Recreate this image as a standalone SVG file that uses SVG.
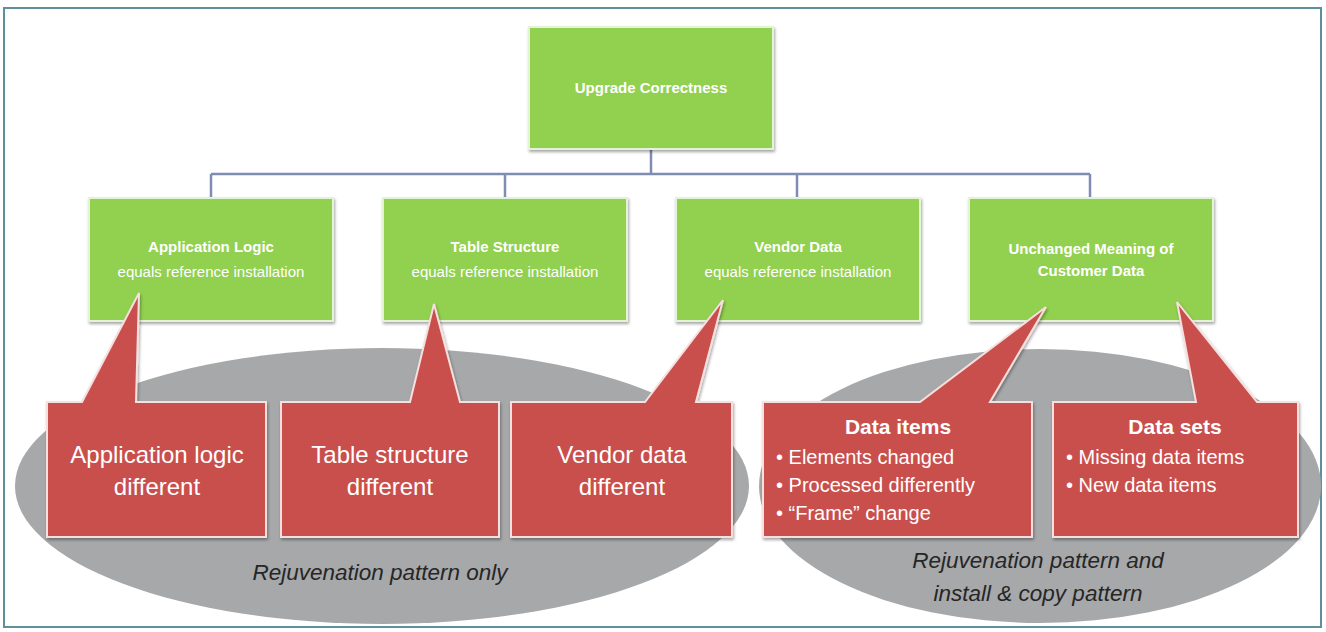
<svg xmlns="http://www.w3.org/2000/svg" width="1326" height="632" viewBox="0 0 1326 632">
<defs>
<filter id="sh" x="-10%" y="-10%" width="120%" height="130%">
<feDropShadow dx="1" dy="2" stdDeviation="1.5" flood-color="#000" flood-opacity="0.35"/>
</filter>
<style>
.frame{fill:#fff;stroke:#5e909c;stroke-width:2}
.green{fill:#92d050;stroke:#e4f3d6;stroke-width:2;filter:url(#sh)}
.red{fill:#c9504d;stroke:#f6e0df;stroke-width:2;stroke-linejoin:miter;filter:url(#sh)}
.oval{fill:#a6a8aa}
.conn{fill:none;stroke:#7f8db3;stroke-width:2.5}
.gt{font-family:"Liberation Sans",Arial,sans-serif;fill:#fff;text-anchor:middle;font-size:15px}
.gb{font-weight:bold}
.rt{font-family:"Liberation Sans",Arial,sans-serif;fill:#fff;text-anchor:middle;font-size:24px}
.rs{font-family:"Liberation Sans",Arial,sans-serif;fill:#fff;font-size:20px}
.rh{font-family:"Liberation Sans",Arial,sans-serif;fill:#fff;font-size:21px;font-weight:bold;text-anchor:middle}
.ot{font-family:"Liberation Sans",Arial,sans-serif;fill:#262626;font-size:22.5px;font-style:italic;text-anchor:middle}
</style>
</defs>
<rect class="frame" x="4" y="8" width="1317" height="619"/>
<g id="oval-left">
<ellipse class="oval" cx="382" cy="486" rx="367" ry="138"/>
<text class="ot" x="380" y="580">Rejuvenation pattern only</text>
</g>
<g id="oval-right">
<ellipse class="oval" cx="1040" cy="486" rx="281" ry="137"/>
<text class="ot" x="1038" y="568">Rejuvenation pattern and</text>
<text class="ot" x="1038" y="601">install &amp; copy pattern</text>
</g>
<g id="connectors">
<path class="conn" d="M651,149 V174 M211,174 H1090 M211,174 V198 M505,174 V198 M797,174 V198 M1090,174 V198"/>
</g>
<g id="upgrade-correctness">
<rect class="green" x="529" y="27" width="244" height="122"/>
<text class="gt gb" x="651" y="93" font-size="16">Upgrade Correctness</text>
</g>
<g id="application-logic">
<rect class="green" x="89" y="198" width="244" height="123"/>
<text class="gt gb" x="211" y="252">Application Logic</text>
<text class="gt" x="211" y="277" font-size="16">equals reference installation</text>
</g>
<g id="table-structure">
<rect class="green" x="383" y="198" width="244" height="123"/>
<text class="gt gb" x="505" y="252">Table Structure</text>
<text class="gt" x="505" y="277" font-size="16">equals reference installation</text>
</g>
<g id="vendor-data">
<rect class="green" x="676" y="198" width="244" height="123"/>
<text class="gt gb" x="798" y="252">Vendor Data</text>
<text class="gt" x="798" y="277" font-size="16">equals reference installation</text>
</g>
<g id="customer-data">
<rect class="green" x="969" y="198" width="244" height="123"/>
<text class="gt gb" x="1091" y="254">Unchanged Meaning of</text>
<text class="gt gb" x="1091" y="276">Customer Data</text>
</g>
<g id="app-logic-different">
<path class="red" d="M47,402 L82,402 L139,293 L136,402 L266,402 L266,537 L47,537 Z"/>
<text class="rt" x="157" y="463">Application logic</text>
<text class="rt" x="157" y="495">different</text>
</g>
<g id="table-structure-different">
<path class="red" d="M281,402 L410,402 L434,304 L460,402 L499,402 L499,537 L281,537 Z"/>
<text class="rt" x="390" y="463">Table structure</text>
<text class="rt" x="390" y="495">different</text>
</g>
<g id="vendor-data-different">
<path class="red" d="M511,402 L645,402 L723,300 L696,402 L732,402 L732,537 L511,537 Z"/>
<text class="rt" x="622" y="463">Vendor data</text>
<text class="rt" x="622" y="495">different</text>
</g>
<g id="data-items">
<path class="red" d="M763,402 L920,402 L1046,307 L990,402 L1032,402 L1032,537 L763,537 Z"/>
<text class="rh" x="898" y="434">Data items</text>
<text class="rs" x="776" y="464">• Elements changed</text>
<text class="rs" x="776" y="492">• Processed differently</text>
<text class="rs" x="776" y="520">• “Frame” change</text>
</g>
<g id="data-sets">
<path class="red" d="M1053,402 L1196,402 L1177,302 L1257,402 L1298,402 L1298,537 L1053,537 Z"/>
<text class="rh" x="1175" y="434">Data sets</text>
<text class="rs" x="1066" y="464">• Missing data items</text>
<text class="rs" x="1066" y="492">• New data items</text>
</g>
</svg>
